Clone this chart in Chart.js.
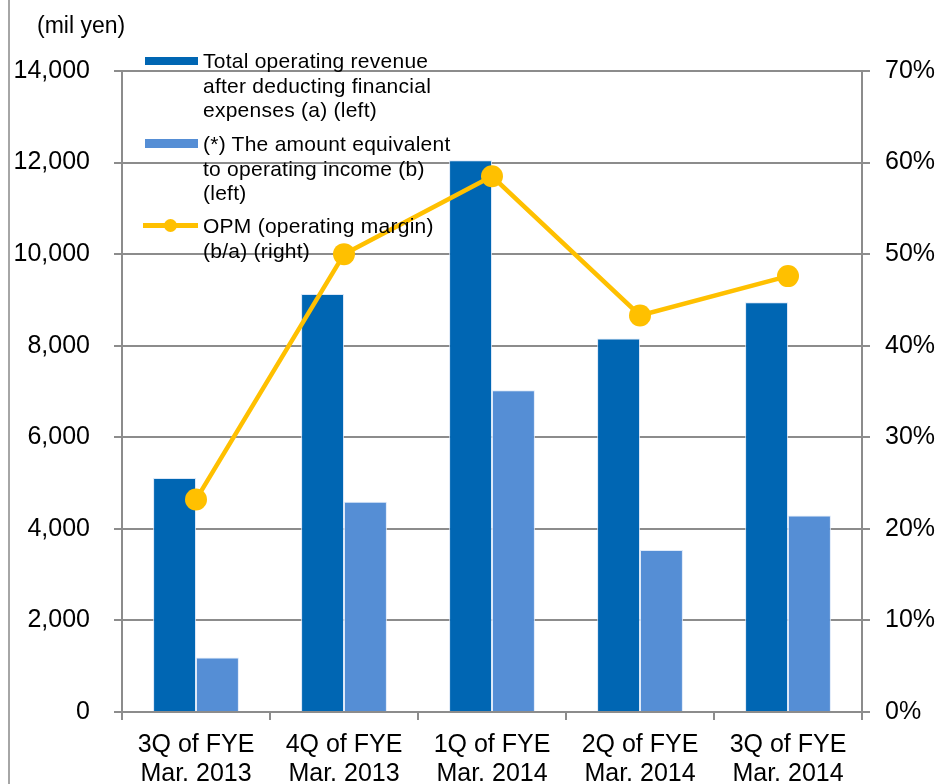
<!DOCTYPE html>
<html><head><meta charset="utf-8">
<script src="https://cdn.jsdelivr.net/npm/chart.js@4/dist/chart.umd.min.js"></script>
<style>
body{margin:0;background:#fff;}
#wrap{position:relative;width:941px;height:784px;overflow:hidden;font-family:"Liberation Sans",Arial,sans-serif;color:#000;}
canvas{position:absolute;left:0;top:0;}
#frame{position:absolute;left:8px;top:0;width:2px;height:784px;background:#a6a6a6;}
#unit{position:absolute;left:37px;top:11px;font-size:23px;line-height:28px;}
.lg{position:absolute;left:203px;font-size:21px;line-height:24.5px;white-space:nowrap;letter-spacing:0.25px;}
.sw{position:absolute;}
</style></head>
<body>
<div id="wrap">
<canvas id="c" width="941" height="784"></canvas>
<div id="frame"></div>
<div id="unit">(mil yen)</div>
<div class="sw" style="left:145px;top:57px;width:53px;height:8px;background:#0066B3"></div>
<div class="lg" style="top:49px">Total operating revenue<br>after deducting financial<br>expenses (a) (left)</div>
<div class="sw" style="left:145px;top:139px;width:53px;height:9px;background:#558ED5"></div>
<div class="lg" style="top:132px">(*) The amount equivalent<br>to operating income (b)<br>(left)</div>
<div class="sw" style="left:143px;top:223px;width:55px;height:5px;background:#FFC000"></div>
<div class="sw" style="left:164px;top:219px;width:13px;height:13px;border-radius:50%;background:#FFC000"></div>
<div class="lg" style="top:214px">OPM (operating margin)<br>(b/a) (right)</div>
</div>
<script>
const categories = [["3Q of FYE","Mar. 2013"],["4Q of FYE","Mar. 2013"],["1Q of FYE","Mar. 2014"],["2Q of FYE","Mar. 2014"],["3Q of FYE","Mar. 2014"]];
const revenue = [5110, 9130, 12050, 8160, 8950];
const opIncome = [1190, 4590, 7030, 3540, 4290];
const opm = [23.2, 50.0, 58.5, 43.3, 47.6];
const leftTicks = [0, 2000, 4000, 6000, 8000, 10000, 12000, 14000];
const rightTicks = [0, 10, 20, 30, 40, 50, 60, 70];

const gridGray = '#8c8c8c';
const tickFont = {family: '"Liberation Sans", Arial, sans-serif', size: 25};

new Chart(document.getElementById('c'), {
  type: 'bar',
  data: {
    labels: categories,
    datasets: [
      {type: 'line', label: 'OPM', data: opm, yAxisID: 'y1', order: 0,
       borderColor: '#FFC000', backgroundColor: '#FFC000', borderWidth: 4.5,
       pointRadius: 11, pointHoverRadius: 11, pointBackgroundColor: '#FFC000', pointBorderWidth: 0, tension: 0},
      {label: 'revenue', data: revenue, yAxisID: 'y', order: 1, backgroundColor: '#0066B3',
       borderColor: 'rgba(210,225,245,0.8)', borderWidth: {top:1,left:1,right:1,bottom:0},
       categoryPercentage: 0.58, barPercentage: 1.0},
      {label: 'opIncome', data: opIncome, yAxisID: 'y', order: 1, backgroundColor: '#558ED5',
       borderColor: 'rgba(220,232,248,0.9)', borderWidth: {top:1,left:1,right:1,bottom:0},
       categoryPercentage: 0.58, barPercentage: 1.0}
    ]
  },
  options: {
    responsive: false,
    devicePixelRatio: 1,
    animation: false,
    layout: {padding: {top: 71, left: 0, right: 0, bottom: 0}},
    plugins: {legend: {display: false}, tooltip: {enabled: false}},
    scales: {
      x: {
        grid: {display: true, drawOnChartArea: false, drawTicks: true, tickLength: 8, color: gridGray, lineWidth: 2, offset: true},
        border: {display: true, color: gridGray, width: 2},
        ticks: {color: '#000', font: {...tickFont, lineHeight: 1.17}, padding: 10, maxRotation: 0, autoSkip: false},
        afterFit: s => { s.height = 72; }
      },
      y: {
        position: 'left', min: 0, max: 14000,
        afterBuildTicks: s => { s.ticks = leftTicks.map(v => ({value: v})); },
        grid: {color: gridGray, lineWidth: 2, tickLength: 8},
        border: {display: true, color: gridGray, width: 2},
        ticks: {color: '#000', font: tickFont, padding: 24, callback: v => v.toLocaleString('en-US')},
        afterFit: s => { s.width = 122; }
      },
      y1: {
        position: 'right', min: 0, max: 70,
        afterBuildTicks: s => { s.ticks = rightTicks.map(v => ({value: v})); },
        grid: {drawOnChartArea: false, color: gridGray, lineWidth: 2, tickLength: 8},
        border: {display: true, color: gridGray, width: 2},
        ticks: {color: '#000', font: tickFont, padding: 15, callback: v => v + '%'},
        afterFit: s => { s.width = 79; }
      }
    }
  }
});
</script>
</body></html>
